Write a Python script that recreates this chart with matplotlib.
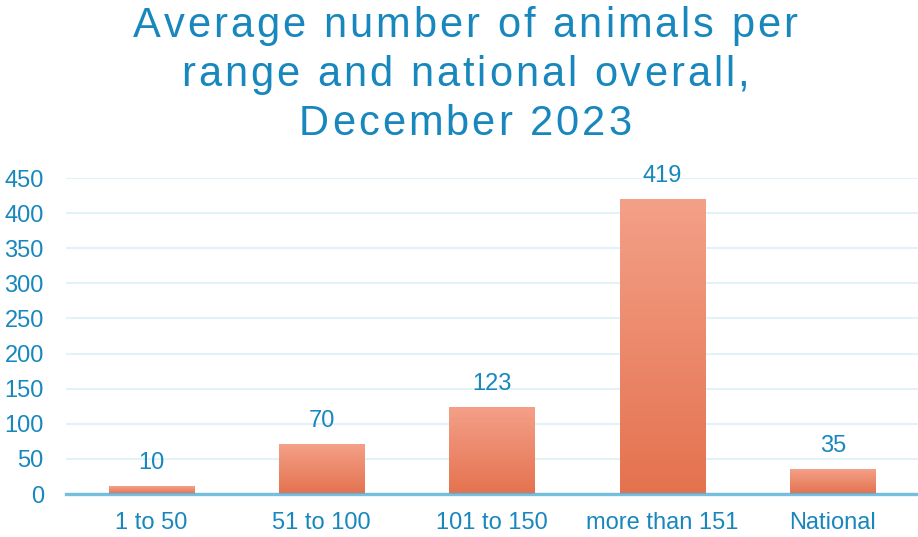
import numpy as np
import matplotlib
matplotlib.use("Agg")
import matplotlib.pyplot as plt
from matplotlib.colors import LinearSegmentedColormap
from matplotlib.font_manager import FontProperties

categories = ["1 to 50", "51 to 100", "101 to 150", "more than 151", "National"]
values = [10, 70, 123, 419, 35]
yticks = [0, 50, 100, 150, 200, 250, 300, 350, 400, 450]
title_lines = ["Average number of animals per",
               "range and national overall,",
               "December 2023"]

blue = "#1787BD"
plt.rcParams["font.family"] = ["Liberation Sans", "DejaVu Sans"]

fig = plt.figure(figsize=(9.18, 5.37), dpi=100)
ax = fig.add_axes([0.0719, 0.080, 0.9281, 0.5885])

# vertical gradient fill for each bar
cmap = LinearSegmentedColormap.from_list("bar", ["#E4724F", "#F4A088"])
grad = np.linspace(0, 1, 256).reshape(-1, 1)
width = 0.5
x = np.arange(len(categories))
for xi, v in zip(x, values):
    ax.imshow(grad, extent=(xi - width / 2, xi + width / 2, 0, v), origin="lower",
              cmap=cmap, aspect="auto", zorder=2, interpolation="bilinear")
    ax.annotate(str(v), (xi, v), xytext=(0, 17), textcoords="offset points",
                ha="center", va="center", fontsize=17, color=blue)

ax.set_xlim(-0.5, len(categories) - 0.5)
ax.set_ylim(0, 450)
ax.set_yticks(yticks)
ax.set_xticks(x)
ax.set_xticklabels(categories)
ax.tick_params(axis="both", length=0, labelsize=17, labelcolor=blue)
ax.tick_params(axis="y", pad=16)
ax.tick_params(axis="x", pad=13)

ax.grid(axis="y", color="#E3F1F8", linewidth=1.5, zorder=0)
ax.set_axisbelow(True)
for s in ["top", "right", "left"]:
    ax.spines[s].set_visible(False)
ax.spines["bottom"].set_color("#5DB4DA")
ax.spines["bottom"].set_alpha(0.85)
ax.spines["bottom"].set_linewidth(2.4)
ax.spines["bottom"].set_zorder(3)

# title with extra letter spacing, drawn one glyph at a time
renderer = fig.canvas.get_renderer()
prop = FontProperties(family=["Liberation Sans"], size=30)
tracking = 3.0  # px added after each glyph


def advance(ch):
    w2, _, _ = renderer.get_text_width_height_descent("x" + ch + "x", prop, ismath=False)
    w0, _, _ = renderer.get_text_width_height_descent("xx", prop, ismath=False)
    return w2 - w0


W, H = fig.bbox.width, fig.bbox.height
cx = 465
baselines = [37, 86, 135]
for line, base in zip(title_lines, baselines):
    adv = [advance(c) for c in line]
    total = sum(adv) + tracking * (len(line) - 1)
    px = cx - total / 2
    for c, a in zip(line, adv):
        if c != " ":
            fig.text(px / W, 1 - base / H, c, fontproperties=prop, color=blue,
                     ha="left", va="baseline")
        px += a + tracking

fig.savefig("out.png", dpi=100)
